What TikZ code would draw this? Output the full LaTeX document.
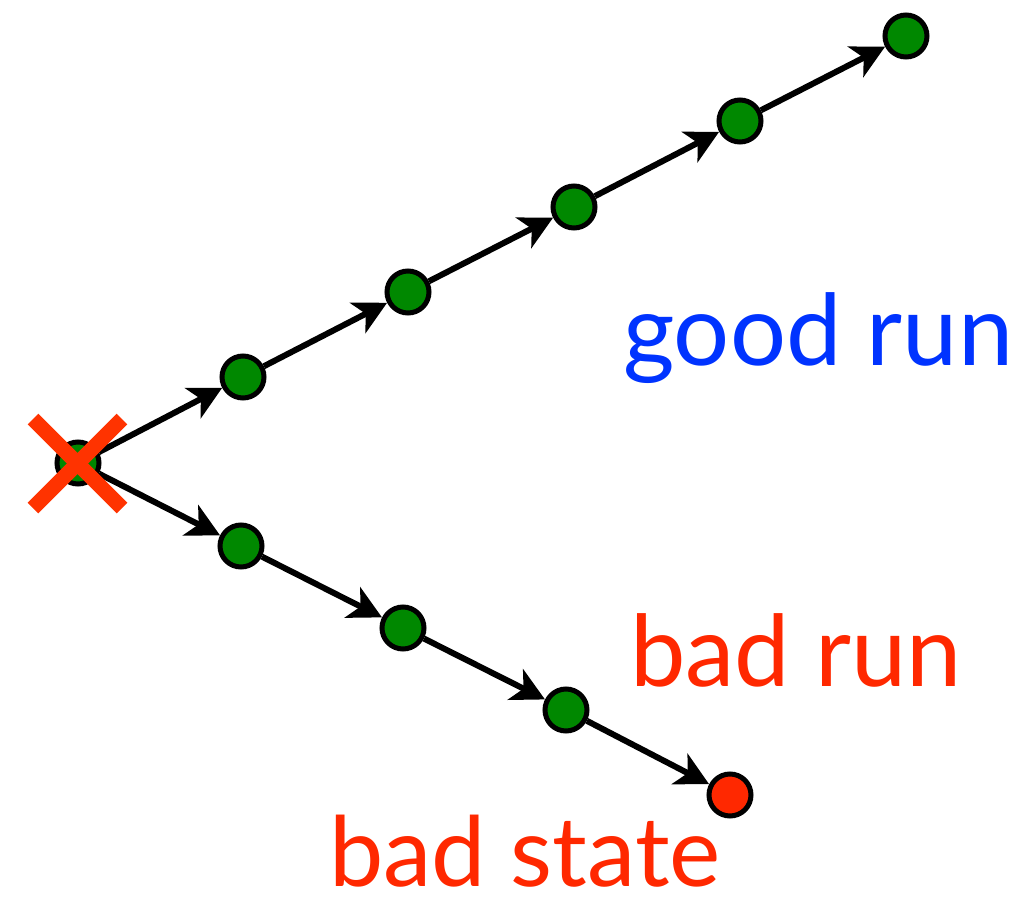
\documentclass[tikz,border=0pt]{standalone}
\usepackage{fontspec}
\setmainfont{Lato}
\usetikzlibrary{arrows.meta}
\definecolor{nodegreen}{RGB}{0,136,0}
\definecolor{runblue}{RGB}{0,51,255}
\definecolor{runred}{RGB}{255,40,0}
\definecolor{xred}{RGB}{255,51,0}
\tikzset{
  state/.style={circle, draw=black, line width=5bp, fill=nodegreen, minimum size=42bp, inner sep=0pt},
  badstate/.style={state, fill=runred},
  edge/.style={line width=6bp, -{Stealth[length=33bp, width=34bp, inset=9bp]}},
  label/.style={anchor=base west, inner sep=0pt, font=\fontsize{99bp}{115bp}\selectfont},
  cross/.style={draw=xred, line width=15bp}
}
\begin{document}
\begin{tikzpicture}[x=1bp,y=-1bp]
\useasboundingbox (0,0) rectangle (1034,897);
% states
\node[state] (s0) at (78,463) {};
\node[state] (g1) at (243,377) {};
\node[state] (g2) at (408,292) {};
\node[state] (g3) at (574,207) {};
\node[state] (g4) at (740,121) {};
\node[state] (g5) at (906,36) {};
\node[state] (b1) at (241,546) {};
\node[state] (b2) at (403,628) {};
\node[state] (b3) at (566,710) {};
\node[badstate] (b4) at (730,795) {};
% good run
\draw[edge] (s0) -- (g1);
\draw[edge] (g1) -- (g2);
\draw[edge] (g2) -- (g3);
\draw[edge] (g3) -- (g4);
\draw[edge] (g4) -- (g5);
% bad run
\draw[edge] (s0) -- (b1);
\draw[edge] (b1) -- (b2);
\draw[edge] (b2) -- (b3);
\draw[edge] (b3) -- (b4);
% cross over start
\coordinate (xa) at (33,419);
\coordinate (xb) at (122,508);
\coordinate (xc) at (33,508);
\coordinate (xd) at (122,419);
\draw[cross] (xa) -- (xb);
\draw[cross] (xc) -- (xd);
% labels
\node[label, text=runblue] (good) at (623,365) {good run};
\node[label, text=runred] (badrun) at (630,686) {bad run};
\node[label, text=runred, font=\fontsize{97bp}{112bp}\selectfont] (badstate) at (329,886) {bad state};
\end{tikzpicture}
\end{document}
